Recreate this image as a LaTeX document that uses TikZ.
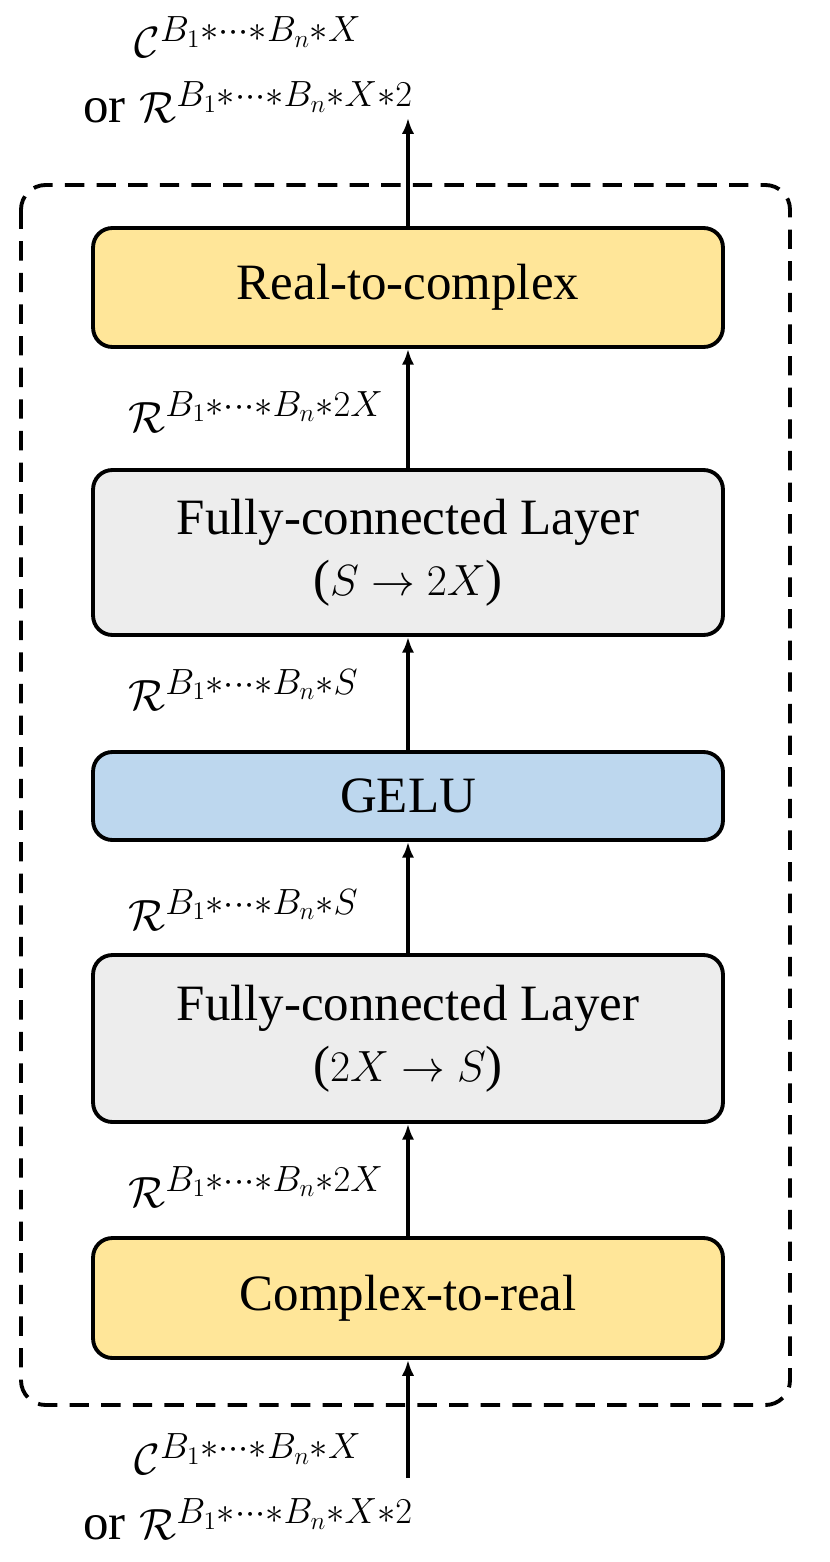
\documentclass[tikz,border=0pt]{standalone}
\usepackage{fontspec}
\setmainfont{Liberation Serif}
\usetikzlibrary{arrows.meta}
\definecolor{ygold}{HTML}{FFE699}
\definecolor{lgray}{HTML}{EDEDED}
\definecolor{lblue}{HTML}{BDD7EE}
\newcommand{\orword}{{\fontsize{29}{35}\selectfont or}}
\begin{document}
\begin{tikzpicture}[x=0.02cm,y=-0.02cm,
  blk/.style={draw=black, line width=2.2pt, rounded corners=11pt, minimum width=12.6cm, align=center, font=\fontsize{29}{35}\selectfont, inner sep=0pt},
  conn/.style={line width=2.2pt, -{Latex[length=9pt,width=7pt]}},
  lbl/.style={font=\fontsize{31.5}{37}\selectfont, inner sep=0pt, align=center}]
\useasboundingbox (0,0) rectangle (830,1562);
\draw[line width=2.2pt, dash pattern=on 11pt off 7pt, rounded corners=14pt] (21,185) rectangle (790,1405);
\node[blk, fill=ygold, minimum height=2.38cm] (rtc) at (408,287.5) {Real-to-complex};
\node[blk, fill=lgray, minimum height=3.3cm] (fc1) at (408,552.5) {Fully-connected Layer\\($S\rightarrow 2X$)};
\node[blk, fill=lblue, minimum height=1.76cm] (gelu) at (408,796) {GELU};
\node[blk, fill=lgray, minimum height=3.34cm] (fc2) at (408,1038.5) {Fully-connected Layer\\($2X\rightarrow S$)};
\node[blk, fill=ygold, minimum height=2.4cm] (ctr) at (408,1298) {Complex-to-real};
\coordinate (out) at (408,118);
\coordinate (in) at (408,1478);
\draw[conn] (rtc.north) -- (out);
\draw[conn] (fc1.north) -- (rtc.south);
\draw[conn] (gelu.north) -- (fc1.south);
\draw[conn] (fc2.north) -- (gelu.south);
\draw[conn] (ctr.north) -- (fc2.south);
\draw[conn] (in) -- (ctr.south);
\node[lbl] (lout) at (248,70) {$\mathcal{C}^{B_1*\cdots*B_n*X}$\\\orword{} $\mathcal{R}^{B_1*\cdots*B_n*X*2}$};
\node[lbl, anchor=west] (l1) at (128,412) {$\mathcal{R}^{B_1*\cdots*B_n*2X}$};
\node[lbl, anchor=west] (l2) at (128,690) {$\mathcal{R}^{B_1*\cdots*B_n*S}$};
\node[lbl, anchor=west] (l3) at (128,910) {$\mathcal{R}^{B_1*\cdots*B_n*S}$};
\node[lbl, anchor=west] (l4) at (128,1187) {$\mathcal{R}^{B_1*\cdots*B_n*2X}$};
\node[lbl] (lin) at (248,1487) {$\mathcal{C}^{B_1*\cdots*B_n*X}$\\\orword{} $\mathcal{R}^{B_1*\cdots*B_n*X*2}$};
\end{tikzpicture}
\end{document}
